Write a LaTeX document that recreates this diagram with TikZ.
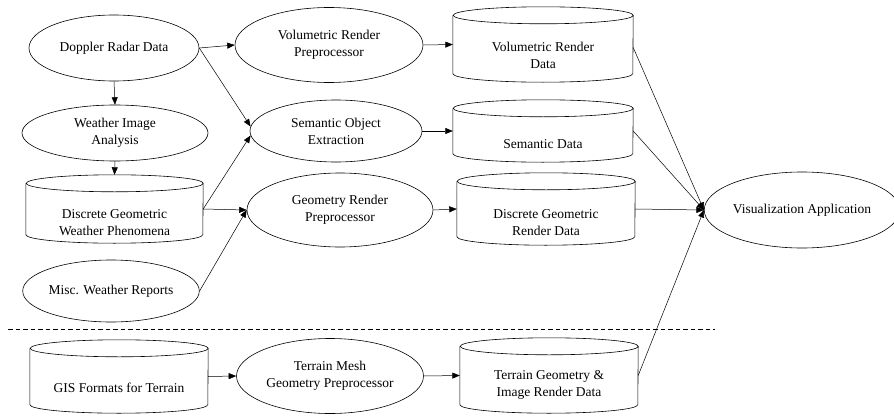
\documentclass[tikz,border=0pt]{standalone}
\usepackage{fontspec}
\setmainfont{Liberation Serif}
\usetikzlibrary{shapes.geometric,arrows.meta,calc}
\begin{document}
\begin{tikzpicture}[x=1pt,y=-1pt,
  every node/.style={font=\fontsize{13.5}{17}\selectfont, align=center, inner sep=0pt},
  oval/.style={ellipse, draw, line width=0.6pt},
  cylbox/.style={rectangle, draw=none},
  arr/.style={-{Triangle[length=7.5pt,width=6pt]}, line width=0.5pt},
  cylline/.style={line width=0.6pt}
]
\useasboundingbox (0,0) rectangle (894,415);
% cylinder macro: name, half width
\newcommand\mycyl[2]{%
  \draw[cylline] ([yshift=-8.5pt]#1.north west) -- ([yshift=8.5pt]#1.south west)
    arc[start angle=180,end angle=360,x radius=#2,y radius=8.5pt]
    -- ([yshift=-8.5pt]#1.north east)
    arc[start angle=0,end angle=180,x radius=#2,y radius=8.5pt]
    arc[start angle=180,end angle=360,x radius=#2,y radius=8.5pt];}

% ellipses
\node[oval, minimum width=170pt, minimum height=66pt] (dop) at (114,48) {Doppler Radar Data};
\node[oval, minimum width=186pt, minimum height=56pt] (wia) at (115,133) {Weather Image\\Analysis};
\node[oval, minimum width=172pt, minimum height=62pt] (misc) at (111,291) {Misc. Weather Reports};
\node[oval, minimum width=188pt, minimum height=75pt] (vrp) at (329,45) {Volumetric Render\\Preprocessor};
\node[oval, minimum width=172pt, minimum height=62pt] (soe) at (336,131) {Semantic Object\\Extraction};
\node[oval, minimum width=186pt, minimum height=74pt] (grp) at (340,210) {Geometry Render\\Preprocessor};
\node[oval, minimum width=187pt, minimum height=75pt] (tmgp) at (330,376) {Terrain Mesh\\Geometry Preprocessor};
\node[oval, minimum width=184pt, minimum height=76pt] (vis) at (802,210) {Visualization Application};

% cylinders
\node[cylbox, minimum width=177pt, minimum height=68pt] (dgwp) at (114.5,209) {};
\node (dgwpt) at ([yshift=-14pt]dgwp.center) {Discrete Geometric\\Weather Phenomena};
\mycyl{dgwp}{88.5pt}
\node[cylbox, minimum width=178pt, minimum height=73pt] (gis) at (119,376.5) {};
\node (gist) at ([yshift=-11pt]gis.center) {GIS Formats for Terrain};
\mycyl{gis}{89pt}
\node[cylbox, minimum width=180pt, minimum height=75pt] (vrd) at (543,44.5) {};
\node (vrdt) at ([yshift=-11pt]vrd.center) {Volumetric Render\\Data};
\mycyl{vrd}{90pt}
\node[cylbox, minimum width=180pt, minimum height=62pt] (sd) at (543,131) {};
\node (sdt) at ([yshift=-13pt]sd.center) {Semantic Data};
\mycyl{sd}{90pt}
\node[cylbox, minimum width=178pt, minimum height=72pt] (dgrd) at (546,209) {};
\node (dgrdt) at ([yshift=-14pt]dgrd.center) {Discrete Geometric\\Render Data};
\mycyl{dgrd}{89pt}
\node[cylbox, minimum width=178pt, minimum height=75pt] (tgird) at (549,375.5) {};
\node (tgirdt) at ([yshift=-9pt]tgird.center) {Terrain Geometry \&\\Image Render Data};
\mycyl{tgird}{89pt}

% dashed separator
\coordinate (dl) at (8,329.5);
\coordinate (dr) at (715,329.5);
\draw[line width=0.6pt, dash pattern=on 4.5pt off 3pt] (dl) -- (dr);

% arrows
\draw[arr] (dop.east) -- (vrp.west);
\draw[arr] (dop.east) -- (soe.177);
\draw[arr] (dop.south) -- (wia.north);
\draw[arr] (wia.south) -- (dgwp.north);
\draw[arr] (dgwp.east) -- (soe.183);
\draw[arr] (dgwp.east) -- (grp.west);
\draw[arr] (misc.east) -- (grp.west);
\draw[arr] (vrp.east) -- (vrd.west);
\draw[arr] (soe.east) -- (sd.west);
\draw[arr] (grp.east) -- (dgrd.west);
\draw[arr] (gis.east) -- (tmgp.west);
\draw[arr] (tmgp.east) -- (tgird.west);
\draw[arr] ([yshift=-3pt]vrd.east) -- (vis.west);
\draw[arr] (sd.east) -- (vis.west);
\draw[arr] (dgrd.east) -- (vis.west);
\draw[arr] (tgird.east) -- (vis.west);
\end{tikzpicture}
\end{document}
